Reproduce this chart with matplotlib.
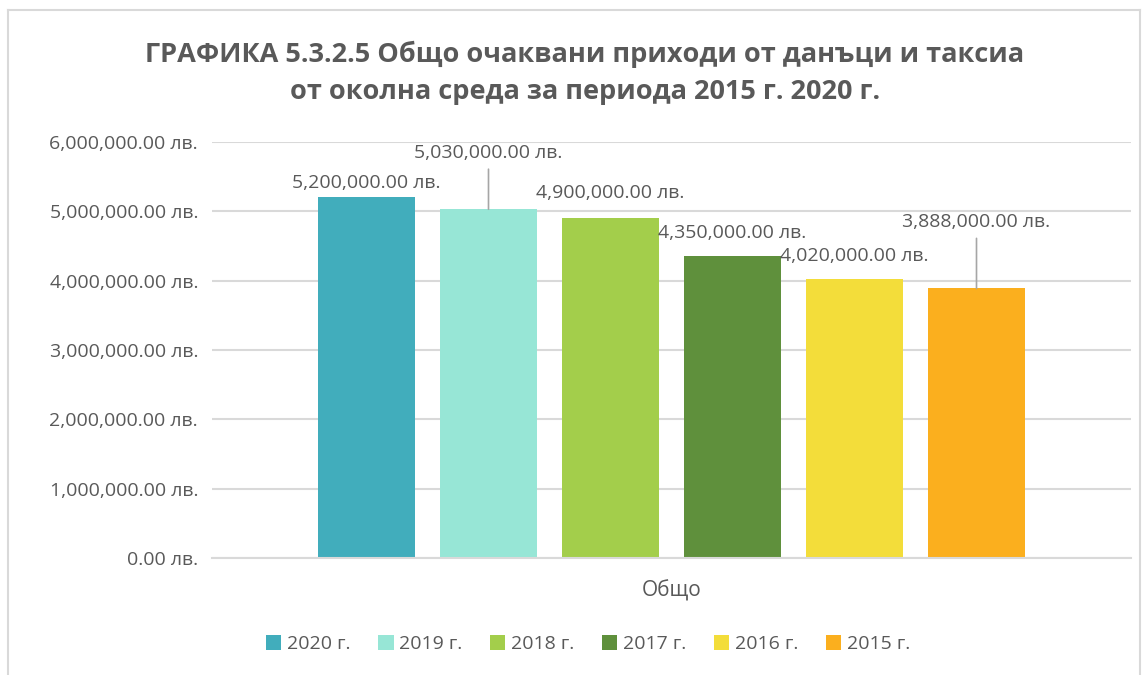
import matplotlib
matplotlib.use("Agg")
import matplotlib.pyplot as plt
from matplotlib.lines import Line2D
from matplotlib.ticker import FuncFormatter

plt.rcParams['font.family'] = ['Open Sans', 'DejaVu Sans']

title = "ГРАФИКА 5.3.2.5 Общо очаквани приходи от данъци и таксиа\nот околна среда за периода 2015 г. 2020 г."
category = "Общо"
series = ["2020 г.", "2019 г.", "2018 г.", "2017 г.", "2016 г.", "2015 г."]
values = [5200000, 5030000, 4900000, 4350000, 4020000, 3888000]
colors = ["#41ADBC", "#97E6D6", "#A3CE4B", "#5F903C", "#F3DD3A", "#FBAF1E"]
# label offsets above each bar top (pixels) and whether a leader line is drawn
label_dy = [14, 56, 25, 23, 23, 66]
leader = [False, True, False, False, False, True]

TEXT = "#595959"
GRID = "#d9d9d9"

fig = plt.figure(figsize=(11.48, 6.75), dpi=100)
ax = fig.add_axes([212 / 1148, 117 / 675, 919 / 1148, 416 / 675])

spacing = 122 / 919
width = 97 / 919
n = len(values)
for i, (s, v, c) in enumerate(zip(series, values, colors)):
    x = (i - (n - 1) / 2) * spacing
    ax.bar(x, v, width=width, color=c, label=s, zorder=2)
    txt = f"{v:,.2f} лв."
    if leader[i]:
        ax.annotate(txt, xy=(x, v), xytext=(0, label_dy[i]), textcoords='offset pixels',
                    ha='center', va='center', fontsize=14, color=TEXT,
                    arrowprops=dict(arrowstyle='-', color='#a6a6a6', lw=1.2,
                                    shrinkA=3, shrinkB=0))
    else:
        ax.annotate(txt, xy=(x, v), xytext=(0, label_dy[i]), textcoords='offset pixels',
                    ha='center', va='center', fontsize=14, color=TEXT)

ax.set_xlim(-0.5, 0.5)
ax.set_ylim(0, 6000000)
ax.set_yticks(range(0, 6000001, 1000000))
ax.yaxis.set_major_formatter(FuncFormatter(lambda v, p: f"{v:,.2f} лв."))
ax.set_xticks([0])
ax.set_xticklabels([category])
ax.tick_params(axis='y', length=0, labelsize=14, labelcolor=TEXT, pad=10)
ax.tick_params(axis='x', length=0, labelsize=15, labelcolor=TEXT, pad=16)
ax.grid(axis='y', color=GRID, lw=1.5, zorder=0)
for side in ['top', 'right', 'left']:
    ax.spines[side].set_visible(False)
ax.spines['bottom'].set_color(GRID)
ax.spines['bottom'].set_linewidth(1.5)

fig.suptitle(title, x=585 / 1148, y=1 - 41 / 675, fontsize=19.5, fontweight='bold',
             color=TEXT, linespacing=1.55, va='top')

leg = fig.legend(loc='center', bbox_to_anchor=(588 / 1148, 1 - 644 / 675), ncol=6,
                 frameon=False, fontsize=14, handlelength=0.8, handleheight=0.8,
                 handletextpad=0.3, columnspacing=1.4, labelcolor=TEXT)

# chart frame
fig.add_artist(Line2D([8 / 1148, 8 / 1148], [0, 1 - 10 / 675], transform=fig.transFigure,
                      color=GRID, lw=1.5))
fig.add_artist(Line2D([8 / 1148, 1140 / 1148], [1 - 10 / 675, 1 - 10 / 675],
                      transform=fig.transFigure, color=GRID, lw=1.5))
fig.add_artist(Line2D([1140 / 1148, 1140 / 1148], [0, 1 - 10 / 675], transform=fig.transFigure,
                      color=GRID, lw=1.5))

fig.savefig("out.png", dpi=100, facecolor='white')
